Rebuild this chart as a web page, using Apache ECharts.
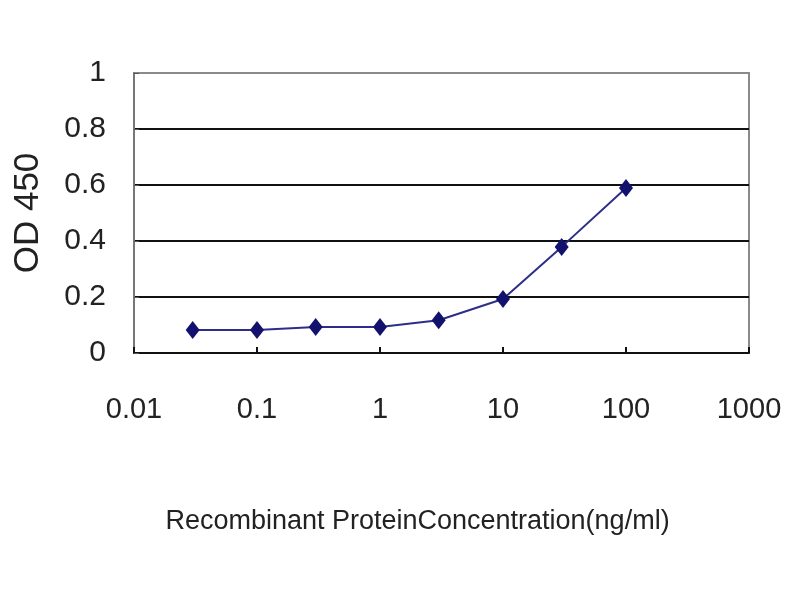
<!DOCTYPE html>
<html>
<head>
<meta charset="utf-8">
<script src="https://cdn.jsdelivr.net/npm/echarts@6/dist/echarts.min.js"></script>
<style>html,body{margin:0;padding:0;background:#fff;}#c{width:800px;height:600px;}</style>
</head>
<body>
<div id="c"></div>
<script>
const concentrations = [0.03, 0.1, 0.3, 1, 3, 10, 30, 100];
const odValues = [0.082, 0.082, 0.093, 0.093, 0.117, 0.193, 0.379, 0.589];
const xTickLabels = ['0.01', '0.1', '1', '10', '100', '1000'];
const yTickLabels = ['0', '0.2', '0.4', '0.6', '0.8', '1'];
const xTitle = 'Recombinant ProteinConcentration(ng/ml)';
const yTitle = 'OD 450';

const chart = echarts.init(document.getElementById('c'), null, {renderer: 'canvas'});
const regular = '"Liberation Sans", Arial, sans-serif';
chart.setOption({
  backgroundColor: '#ffffff',
  animation: false,
  grid: {left: 134, top: 73, width: 615, height: 280, show: true, borderColor: '#8a8a8a', borderWidth: 2, backgroundColor: 'transparent'},
  xAxis: {
    type: 'log', logBase: 10, min: 0.01, max: 1000,
    name: xTitle, nameLocation: 'middle', nameGap: 155,
    nameTextStyle: {fontFamily: regular, fontSize: 27, color: '#222', padding: [0, 48, 0, 0]},
    axisLine: {show: true, lineStyle: {color: '#111', width: 2}},
    axisTick: {show: true, inside: true, length: 6, lineStyle: {color: '#111', width: 2}},
    axisLabel: {fontFamily: regular, fontSize: 29, color: '#222', margin: 42,
      formatter: function (v) { const i = Math.round(Math.log10(v)) + 2; return xTickLabels[i] !== undefined ? xTickLabels[i] : ''; }},
    splitLine: {show: false}, minorTick: {show: false}
  },
  yAxis: {
    type: 'value', min: 0, max: 1, interval: 0.2,
    name: yTitle, nameLocation: 'middle', nameGap: 88,
    nameTextStyle: {fontFamily: regular, fontSize: 35, color: '#222'},
    axisLine: {show: true, lineStyle: {color: '#777', width: 2}},
    axisTick: {show: true, inside: true, length: 5, lineStyle: {color: '#555'}},
    axisLabel: {fontFamily: regular, fontSize: 30, color: '#222', margin: 28,
      formatter: function (v) { const i = Math.round(v * 5); return yTickLabels[i] !== undefined ? yTickLabels[i] : ''; }},
    splitLine: {show: true, lineStyle: {color: ['#111', '#111', '#111', '#111', '#111', '#8a8a8a'], width: 2}}
  },
  series: [{
    type: 'line',
    data: concentrations.map((c, i) => [c, odValues[i]]),
    symbol: 'diamond', symbolSize: [14, 18],
    itemStyle: {color: '#12126e'},
    lineStyle: {color: '#2e2e8a', width: 2}
  }]
});
</script>
</body>
</html>
